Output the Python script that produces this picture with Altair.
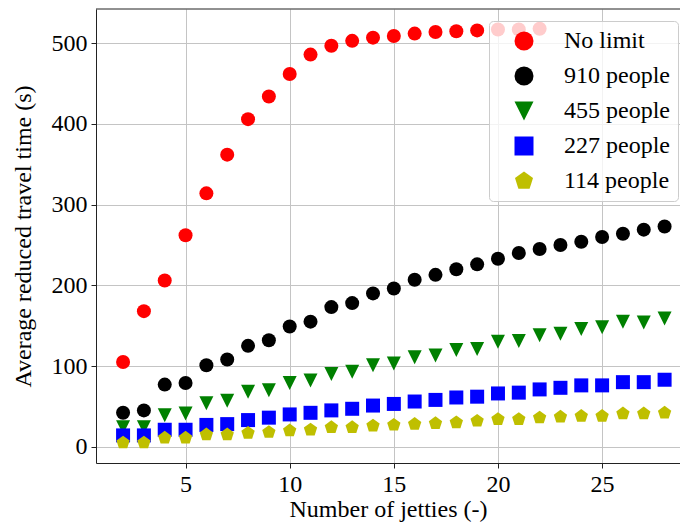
import altair as alt
import pandas as pd

jetties = list(range(2, 29))
no_limit_x = list(range(2, 23))
no_limit = [105, 168, 206, 262, 314, 362, 406, 434, 462, 486, 497, 503, 507, 509,
            512, 514, 515, 516, 517, 517, 518]
p910 = [42, 45, 77, 79, 101, 108, 125, 132, 149, 155, 173, 178, 190, 196, 207, 213,
        220, 226, 233, 240, 245, 250, 254, 260, 264, 269, 273]
p455 = [24, 24, 39, 41, 54, 57, 68, 70, 79, 82, 90, 93, 101, 103, 111, 113, 120, 121,
        130, 131, 138, 140, 146, 148, 155, 154, 159]
p227 = [14, 14, 21, 21, 27, 28, 33, 36, 40, 42, 45, 47, 51, 53, 56, 58, 61, 62, 66, 67,
        71, 73, 76, 76, 80, 80, 83]
p114 = [5, 5, 11, 11, 15, 15, 17, 18, 20, 21, 24, 24, 26, 27, 28, 29, 30, 32, 34, 34,
        36, 37, 38, 38, 41, 41, 42]

series_names = ["No limit", "910 people", "455 people", "227 people", "114 people"]
colors = ["#ff0000", "#000000", "#008000", "#0000ff", "#bfbf00"]
shapes = [
    "circle",
    "circle",
    "M-1,-1L1,-1L0,1Z",
    "square",
    "M0,-1L0.951,-0.309L0.588,0.809L-0.588,0.809L-0.951,-0.309Z",
]
x_ticks = [5, 10, 15, 20, 25]
y_ticks = [0, 100, 200, 300, 400, 500]

rows = []
for xs, ys, name in [
    (no_limit_x, no_limit, series_names[0]),
    (jetties, p910, series_names[1]),
    (jetties, p455, series_names[2]),
    (jetties, p227, series_names[3]),
    (jetties, p114, series_names[4]),
]:
    for a, b in zip(xs, ys):
        rows.append({"jetties": a, "time": b, "series": name})
df = pd.DataFrame(rows)

W, H = 584, 454
FONT = "Liberation Serif"
FS = 24

legend = alt.Legend(
    title=None,
    orient="none",
    legendX=393,
    legendY=12,
    padding=8,
    symbolOffset=15,
    labelOffset=28,
    rowPadding=11,
    fillColor="rgba(255,255,255,0.8)",
    strokeColor="#cccccc",
    cornerRadius=4,
    labelFont=FONT,
    labelFontSize=FS,
    labelColor="black",
    symbolSize=361,
    symbolStrokeWidth=0,
    symbolOpacity=1,
)

points = alt.Chart(df).mark_point(filled=True, size=196, opacity=1, strokeWidth=0).encode(
    x=alt.X("jetties:Q",
            scale=alt.Scale(domain=[0.7, 28.74], nice=False, zero=False),
            axis=alt.Axis(values=x_ticks, title="Number of jetties (-)", titlePadding=1)),
    y=alt.Y("time:Q",
            scale=alt.Scale(domain=[-20.2, 542.5], nice=False, zero=False),
            axis=alt.Axis(values=y_ticks, title="Average reduced travel time (s)",
                          titlePadding=16)),
    color=alt.Color("series:N", scale=alt.Scale(domain=series_names, range=colors),
                    sort=series_names, legend=legend),
    shape=alt.Shape("series:N", scale=alt.Scale(domain=series_names, range=shapes),
                    sort=series_names, legend=legend),
)

top_line = alt.Chart(pd.DataFrame({"k": [0]})).mark_rule(color="#222222", strokeWidth=1).encode(
    x=alt.value(0), x2=alt.value(W), y=alt.value(0)
)

chart = alt.layer(points, top_line).properties(
    width=W, height=H,
    autosize=alt.AutoSizeParams(type="none"),
    padding={"left": 88, "top": 1, "right": 0, "bottom": 62},
).configure_view(strokeWidth=0).configure_axis(
    domainColor="#222222",
    domainWidth=1,
    tickColor="#222222",
    tickSize=5,
    labelPadding=4,
    labelFont=FONT,
    labelFontSize=FS,
    labelColor="black",
    titleFont=FONT,
    titleFontSize=FS,
    titleFontWeight="normal",
    titleColor="black",
    gridColor="#c4c4c4",
    gridWidth=1,
)

chart.save("out.html", embed_options={"renderer": "svg", "actions": False})
